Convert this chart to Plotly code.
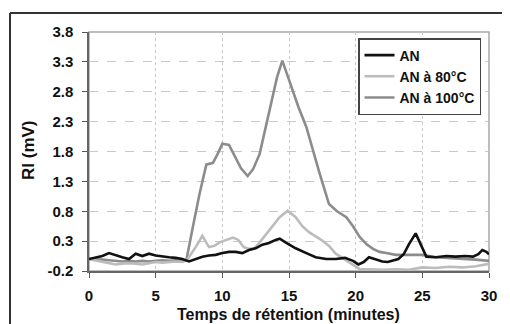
import plotly.graph_objects as go

# ---- data ----
t_an = [0, 0.5, 1.0, 1.5, 2.0, 2.5, 3.0, 3.5, 4.0, 4.5, 5.0, 5.5, 6.0, 6.5, 7.0, 7.5, 8.0, 8.5, 9.0, 9.5,
        10.0, 10.5, 11.0, 11.5, 12.0, 12.5, 13.0, 13.5, 14.0, 14.3, 14.8, 15.5, 16.3, 17.0, 17.8, 18.5,
        19.2, 19.8, 20.2, 20.6, 21.0, 21.5, 22.0, 22.4, 22.8, 23.2, 23.6, 24.0, 24.5, 24.9, 25.3, 26.0,
        26.8, 27.5, 28.2, 28.8, 29.2, 29.5, 29.8, 30.0]
an = [0.0, 0.02, 0.05, 0.1, 0.06, 0.03, 0.0, 0.09, 0.05, 0.09, 0.06, 0.04, 0.03, 0.02, 0.0, -0.04,
      0.0, 0.04, 0.06, 0.07, 0.1, 0.12, 0.12, 0.1, 0.15, 0.18, 0.24, 0.27, 0.32, 0.34, 0.27, 0.18,
      0.1, 0.03, 0.0, 0.0, 0.02, -0.03, -0.09, -0.05, 0.03, 0.0, -0.04, -0.05, -0.02, 0.0, 0.08,
      0.25, 0.43, 0.22, 0.04, 0.03, 0.05, 0.04, 0.05, 0.04, 0.08, 0.15, 0.12, 0.08]

t_80 = [0, 0.5, 1, 1.5, 2, 2.5, 3, 3.5, 4, 4.5, 5, 5.5, 6, 6.5, 7, 7.4, 8.0, 8.5, 9.0, 9.4, 9.8,
        10.3, 10.8, 11.2, 11.6, 12.0, 12.4, 12.8, 13.3, 13.8, 14.3, 14.9, 15.5, 16.0, 16.5, 17.0,
        17.5, 18.0, 18.5, 19.0, 19.5, 19.9, 20.3, 21, 22, 23, 24, 25, 26, 27, 28, 29, 30]
an_80 = [0.0, -0.02, -0.04, -0.06, -0.09, -0.08, -0.07, -0.08, -0.09, -0.07, -0.05, -0.06, -0.05,
         -0.04, -0.05, 0.0, 0.2, 0.39, 0.2, 0.22, 0.28, 0.32, 0.36, 0.32, 0.2, 0.17, 0.18, 0.28,
         0.42, 0.55, 0.7, 0.81, 0.7, 0.55, 0.45, 0.38, 0.31, 0.22, 0.09, 0.02, -0.05, -0.1, -0.17,
         -0.17, -0.18, -0.17, -0.18, -0.14, -0.15, -0.13, -0.14, -0.12, -0.08]

t_100 = [0, 0.5, 1, 1.5, 2, 2.5, 3, 3.5, 4, 4.5, 5, 5.5, 6, 6.5, 7.0, 7.3, 7.8, 8.3, 8.8, 9.3, 9.65,
         10.0, 10.5, 11.0, 11.4, 11.9, 12.3, 12.8, 13.5, 14.1, 14.5, 15.1, 15.7, 16.3, 16.8, 17.3,
         18.0, 18.6, 19.3, 19.8, 20.3, 20.8, 21.3, 21.8, 22.3, 23, 24, 25, 26, 27, 28, 29, 30]
an_100 = [0.0, 0.0, -0.01, -0.02, -0.03, -0.04, -0.03, -0.04, -0.03, -0.04, -0.03, -0.02, -0.03,
          -0.02, -0.04, -0.02, 0.55, 1.1, 1.58, 1.61, 1.76, 1.93, 1.91, 1.7, 1.52, 1.39, 1.5, 1.76,
          2.43, 3.04, 3.32, 2.93, 2.55, 2.21, 1.8, 1.43, 0.92, 0.8, 0.7, 0.55, 0.37, 0.25, 0.17,
          0.12, 0.1, 0.07, 0.07, 0.07, 0.03, 0.02, 0.0, -0.01, -0.03]

y_ticks = [-0.2, 0.3, 0.8, 1.3, 1.8, 2.3, 2.8, 3.3, 3.8]
x_ticks = [0, 5, 10, 15, 20, 25, 30]
series_names = ["AN", "AN à 80°C", "AN à 100°C"]

FONT = "Liberation Sans, Arial, sans-serif"

fig = go.Figure()
fig.add_trace(go.Scatter(x=t_100, y=an_100, mode="lines", name=series_names[2], legendrank=3,
                         line=dict(color="#8c8c8c", width=2.6)))
fig.add_trace(go.Scatter(x=t_80, y=an_80, mode="lines", name=series_names[1], legendrank=2,
                         line=dict(color="#bcbcbc", width=2.6)))
fig.add_trace(go.Scatter(x=t_an, y=an, mode="lines", name=series_names[0], legendrank=1,
                         line=dict(color="#111111", width=2.6)))

# the page body adds an 8px margin: figure is sized/positioned in page pixels minus 8
OFF = 8
W, H = 510 - OFF, 324 - OFF
PL, PT, PR, PB = 89, 32, 489, 271          # plot area in page pixels
L, T = PL - OFF, PT - OFF
R, B = W - (PR - OFF), H - (PB - OFF)
pw, ph = W - L - R, H - T - B

def px(x):
    return (x - OFF - L) / pw

def py(y):
    return (H - B - (y - OFF)) / ph

fig.update_layout(
    width=W, height=H,
    margin=dict(l=L, r=R, t=T, b=B, autoexpand=False),
    paper_bgcolor="white", plot_bgcolor="white",
    font=dict(family=FONT, color="#111"),
    legend=dict(x=px(358), y=py(38), xanchor="left", yanchor="top",
                traceorder="normal",
                bgcolor="white", bordercolor="#444", borderwidth=1.5,
                font=dict(family=FONT, size=14, weight="bold", color="#111"),
                itemwidth=30, tracegroupgap=0),
    xaxis=dict(range=[0, 30], tickvals=x_ticks, ticktext=[str(v) for v in x_ticks],
               showgrid=True, gridcolor="#c8c8c8", gridwidth=1, griddash="dot",
               zeroline=False, showline=True, linecolor="#666", linewidth=1.5,
               ticks="outside", ticklen=5, tickcolor="#555", ticklabelstandoff=5,
               tickfont=dict(family=FONT, size=15, weight="bold", color="#111")),
    yaxis=dict(range=[-0.2, 3.8], tickvals=y_ticks, ticktext=["%.1f" % v for v in y_ticks],
               showgrid=True, gridcolor="#c8c8c8", gridwidth=1, griddash="dash",
               zeroline=False, showline=True, linecolor="#666", linewidth=1.5,
               ticks="outside", ticklen=5, tickcolor="#555", ticklabelstandoff=6,
               tickfont=dict(family=FONT, size=15, weight="bold", color="#111")),
    shapes=[
        # plot-area frame (top/right in light gray)
        dict(type="rect", xref="paper", yref="paper", x0=0, y0=0, x1=1, y1=1,
             line=dict(color="#a8a8a8", width=1.5), layer="below"),
        # outer chart frame
        dict(type="line", xref="paper", yref="paper", x0=px(10), x1=px(10), y0=py(13), y1=py(330),
             line=dict(color="#333", width=2)),
        dict(type="line", xref="paper", yref="paper", x0=px(10), x1=px(520), y0=py(13), y1=py(13),
             line=dict(color="#333", width=2)),
    ],
    annotations=[
        dict(text="Temps de rétention (minutes)", xref="paper", yref="paper",
             x=px(288), y=py(314), xanchor="center", yanchor="middle", showarrow=False,
             font=dict(family=FONT, size=16, weight="bold", color="#111")),
        dict(text="RI (mV)", xref="paper", yref="paper", textangle=-90,
             x=px(28), y=py(150), xanchor="center", yanchor="middle", showarrow=False,
             font=dict(family=FONT, size=17, weight="bold", color="#111")),
    ],
)

fig.write_html("out.html")
